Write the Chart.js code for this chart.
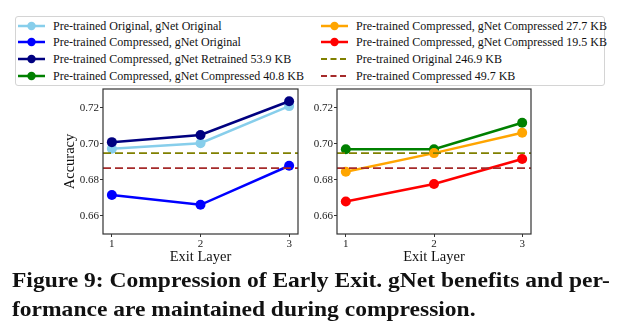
<!DOCTYPE html>
<html>
<head>
<meta charset="utf-8">
<script src="https://cdn.jsdelivr.net/npm/chart.js@4.4.1/dist/chart.umd.min.js"></script>
<style>
  body { margin: 0; background: #fff; }
  #page { position: relative; width: 621px; height: 324px; overflow: hidden; background: #fff; font-family: "Liberation Serif", serif; }
  canvas { position: absolute; }
  #legend { position: absolute; left: 15px; top: 16px; width: 590px; height: 70px; border: 1px solid #d4d4d4; border-radius: 3px; box-sizing: border-box; }
  .item { position: absolute; height: 16px; font-size: 12px; line-height: 16px; color: #111; white-space: nowrap; }
  .item canvas { position: absolute; left: 0; top: 0; }
  .item span { position: absolute; left: 35px; top: 0; }
  .cap { position: absolute; left: 12px; font: bold 21px/21px "Liberation Serif", serif; color: #111; white-space: nowrap; transform-origin: 0 0; }
</style>
</head>
<body>
<div id="page">
  <div id="legend"></div>
  <canvas id="left" width="310" height="190" style="left:0px;top:80px;"></canvas>
  <canvas id="right" width="321" height="190" style="left:300px;top:80px;"></canvas>
  <div class="cap" id="cap1" style="top:270px;">Figure 9: Compression of Early Exit. gNet benefits and per-</div>
  <div class="cap" id="cap2" style="top:299px;">formance are maintained during compression.</div>
</div>
<script>
// data
const exitLayers = [1, 2, 3];
const origOrig = [0.6973, 0.7004, 0.7210];
const compOrig = [0.6717, 0.6662, 0.6879];
const compRetrained = [0.7010, 0.7050, 0.7237];
const compComp408 = [0.6971, 0.6971, 0.7118];
const compComp277 = [0.6846, 0.6949, 0.7062];
const compComp195 = [0.6680, 0.6778, 0.6916];
const baseOriginal = 0.6949;   // Pre-trained Original 246.9 KB
const baseCompressed = 0.6866; // Pre-trained Compressed 49.7 KB
const yTicks = [0.66, 0.68, 0.70, 0.72];

const labels = [
  "Pre-trained Original, gNet Original",
  "Pre-trained Compressed, gNet Original",
  "Pre-trained Compressed, gNet Retrained 53.9 KB",
  "Pre-trained Compressed, gNet Compressed 40.8 KB",
  "Pre-trained Compressed, gNet Compressed 27.7 KB",
  "Pre-trained Compressed, gNet Compressed 19.5 KB",
  "Pre-trained Original 246.9 KB",
  "Pre-trained Compressed 49.7 KB"
];
const colors = ["#87ceeb", "#0000ff", "#000080", "#008000", "#ffa500", "#ff0000", "#808000", "#a52a2a"];

const xMin = 0.9, xMax = 3.1, yMin = 0.650, yMax = 0.7305;

// legend (two columns of four)
const legend = document.getElementById("legend");
labels.forEach((lab, i) => {
  const col = Math.floor(i / 4), row = i % 4;
  const div = document.createElement("div");
  div.className = "item";
  div.style.left = (col === 0 ? 2 : 305) + "px";
  div.style.top = (row * 16.8 + 0.5) + "px";
  const c = document.createElement("canvas");
  c.width = 30; c.height = 16;
  const ctx = c.getContext("2d");
  ctx.strokeStyle = colors[i];
  ctx.lineWidth = i < 6 ? 2.5 : 1.8;
  if (i >= 6) ctx.setLineDash([6, 3.5]);
  ctx.beginPath(); ctx.moveTo(0, 8); ctx.lineTo(27, 8); ctx.stroke();
  if (i < 6) {
    ctx.fillStyle = colors[i];
    ctx.beginPath(); ctx.arc(13.5, 8, 4.2, 0, Math.PI * 2); ctx.fill();
  }
  const s = document.createElement("span");
  s.textContent = lab;
  div.appendChild(c); div.appendChild(s);
  legend.appendChild(div);
});

function series(idx, values, order) {
  return {
    label: labels[idx],
    data: exitLayers.map((x, k) => ({ x: x, y: values[k] })),
    borderColor: colors[idx], backgroundColor: colors[idx],
    borderWidth: 2.5, pointRadius: 5, pointBorderWidth: 0, pointHoverRadius: 5,
    order: order
  };
}
function hline(idx, value, order) {
  return {
    label: labels[idx],
    data: [{ x: xMin, y: value }, { x: xMax, y: value }],
    borderColor: colors[idx], borderWidth: 1.8, borderDash: [8, 4],
    pointRadius: 0, order: order
  };
}

const frame = {
  id: "frame",
  afterDraw(chart) {
    const a = chart.chartArea, ctx = chart.ctx;
    ctx.save();
    ctx.strokeStyle = "#333";
    ctx.lineWidth = 1.2;
    ctx.strokeRect(a.left, a.top, a.right - a.left, a.bottom - a.top);
    ctx.restore();
  }
};

function makeChart(id, datasets, yTitle, padLeft, yWidth, padRight) {
  return new Chart(document.getElementById(id), {
    type: "line",
    data: { datasets: datasets },
    options: {
      responsive: false, animation: false,
      layout: { padding: { left: padLeft, right: padRight, top: 9, bottom: 0 } },
      plugins: { legend: { display: false }, tooltip: { enabled: false } },
      scales: {
        x: {
          type: "linear", min: xMin, max: xMax,
          afterBuildTicks: s => { s.ticks = exitLayers.map(v => ({ value: v })); },
          afterFit: s => { s.height = 36; },
          grid: { drawOnChartArea: false, tickLength: 3, color: "#333" },
          border: { display: false },
          ticks: { padding: 1, color: "#222", font: { family: "Liberation Serif", size: 11 }, callback: v => String(v) },
          title: { display: true, text: "Exit Layer", color: "#111", font: { family: "Liberation Serif", size: 14.5 } }
        },
        y: {
          min: yMin, max: yMax,
          afterBuildTicks: s => { s.ticks = yTicks.map(v => ({ value: v })); },
          afterFit: s => { s.width = yWidth; },
          grid: { drawOnChartArea: false, tickLength: 3, color: "#333" },
          border: { display: false },
          ticks: { padding: 1, color: "#222", font: { family: "Liberation Serif", size: 11 }, callback: v => v.toFixed(2) },
          title: { display: yTitle, text: "Accuracy", color: "#111", font: { family: "Liberation Serif", size: 14.5 } }
        }
      }
    },
    plugins: [frame]
  });
}

makeChart("left", [
  series(0, origOrig, 5),
  series(1, compOrig, 4),
  series(2, compRetrained, 3),
  hline(6, baseOriginal, 2),
  hline(7, baseCompressed, 1)
], true, 57, 46, 12);

makeChart("right", [
  series(3, compComp408, 5),
  series(4, compComp277, 4),
  series(5, compComp195, 3),
  hline(6, baseOriginal, 2),
  hline(7, baseCompressed, 1)
], false, 0, 37, 90);

// stretch caption so the first line fills the column width
const cap1 = document.getElementById("cap1"), cap2 = document.getElementById("cap2");
const k = 598 / cap1.offsetWidth;
cap1.style.transform = "scaleX(" + k + ")";
cap2.style.transform = "scaleX(" + k + ")";
</script>
</body>
</html>
